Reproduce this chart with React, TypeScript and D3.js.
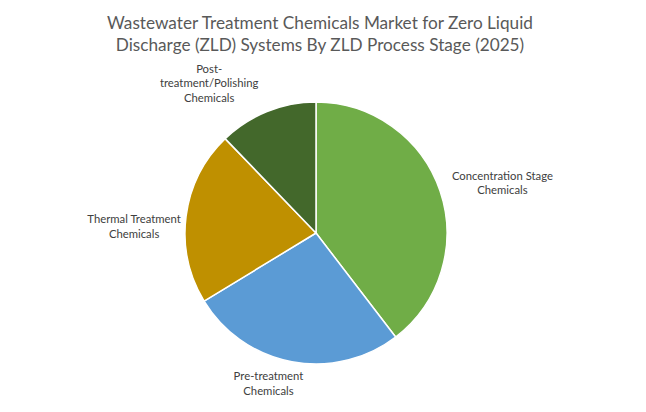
import React from "react";
import * as d3 from "d3";

const categories = [
  "Concentration Stage Chemicals",
  "Pre-treatment Chemicals",
  "Thermal Treatment Chemicals",
  "Post-treatment/Polishing Chemicals",
];
const values = [39.6, 26.7, 21.5, 12.2];
const colors = ["#70AD47", "#5B9BD5", "#BF9000", "#43682B"];
const labelLines = [
  ["Concentration Stage", "Chemicals"],
  ["Pre-treatment", "Chemicals"],
  ["Thermal Treatment", "Chemicals"],
  ["Post-", "treatment/Polishing", "Chemicals"],
];
const titleLines = [
  "Wastewater Treatment Chemicals Market for Zero Liquid",
  "Discharge (ZLD) Systems By ZLD Process Stage (2025)",
];

const W = 646;
const H = 412;
const cx = 316;
const cy = 233;
const R = 131;
// label placement (angle, distance from center) in layout terms
const labelPlace = [
  { r: 193, a: 75 },
  { r: 158, a: 197.5 },
  { r: 182, a: 272 },
  { r: 184, a: 324.5 },
];

export default function App() {
  const pie = d3
    .pie<number>()
    .sort(null)
    .value((d) => d);
  const arcs = pie(values);
  const arc = d3.arc<d3.PieArcDatum<number>>().innerRadius(0).outerRadius(R);
  const font = "Lato, 'Open Sans', sans-serif";
  return (
    <svg
      width={W}
      height={H}
      style={{ position: "absolute", left: 0, top: 0, background: "#fff" }}
    >
      <rect width={W} height={H} fill="#fff" />
      <g fontFamily={font} fill="#595959" fontSize={17.2} textAnchor="middle">
        {titleLines.map((t, i) => (
          <text key={i} x={320} y={29 + i * 21.7}>
            {t}
          </text>
        ))}
      </g>
      <g transform={`translate(${cx},${cy})`}>
        {arcs.map((a, i) => (
          <path
            key={categories[i]}
            d={arc(a) || ""}
            fill={colors[i]}
            stroke="#fff"
            strokeWidth={1.5}
            strokeLinejoin="round"
          />
        ))}
      </g>
      <g fontFamily={font} fill="#404040" fontSize={11.3} textAnchor="middle">
        {arcs.map((a, i) => {
          const p = labelPlace[i];
          const ang = (p.a * Math.PI) / 180;
          const x = cx + Math.sin(ang) * p.r;
          const y = cy - Math.cos(ang) * p.r;
          const lines = labelLines[i];
          const lh = 14.5;
          const y0 = y - ((lines.length - 1) * lh) / 2;
          return (
            <text key={i} x={x} y={y0 + 4}>
              {lines.map((l, j) => (
                <tspan key={j} x={x} y={y0 + 4 + j * lh}>
                  {l}
                </tspan>
              ))}
            </text>
          );
        })}
      </g>
    </svg>
  );
}
